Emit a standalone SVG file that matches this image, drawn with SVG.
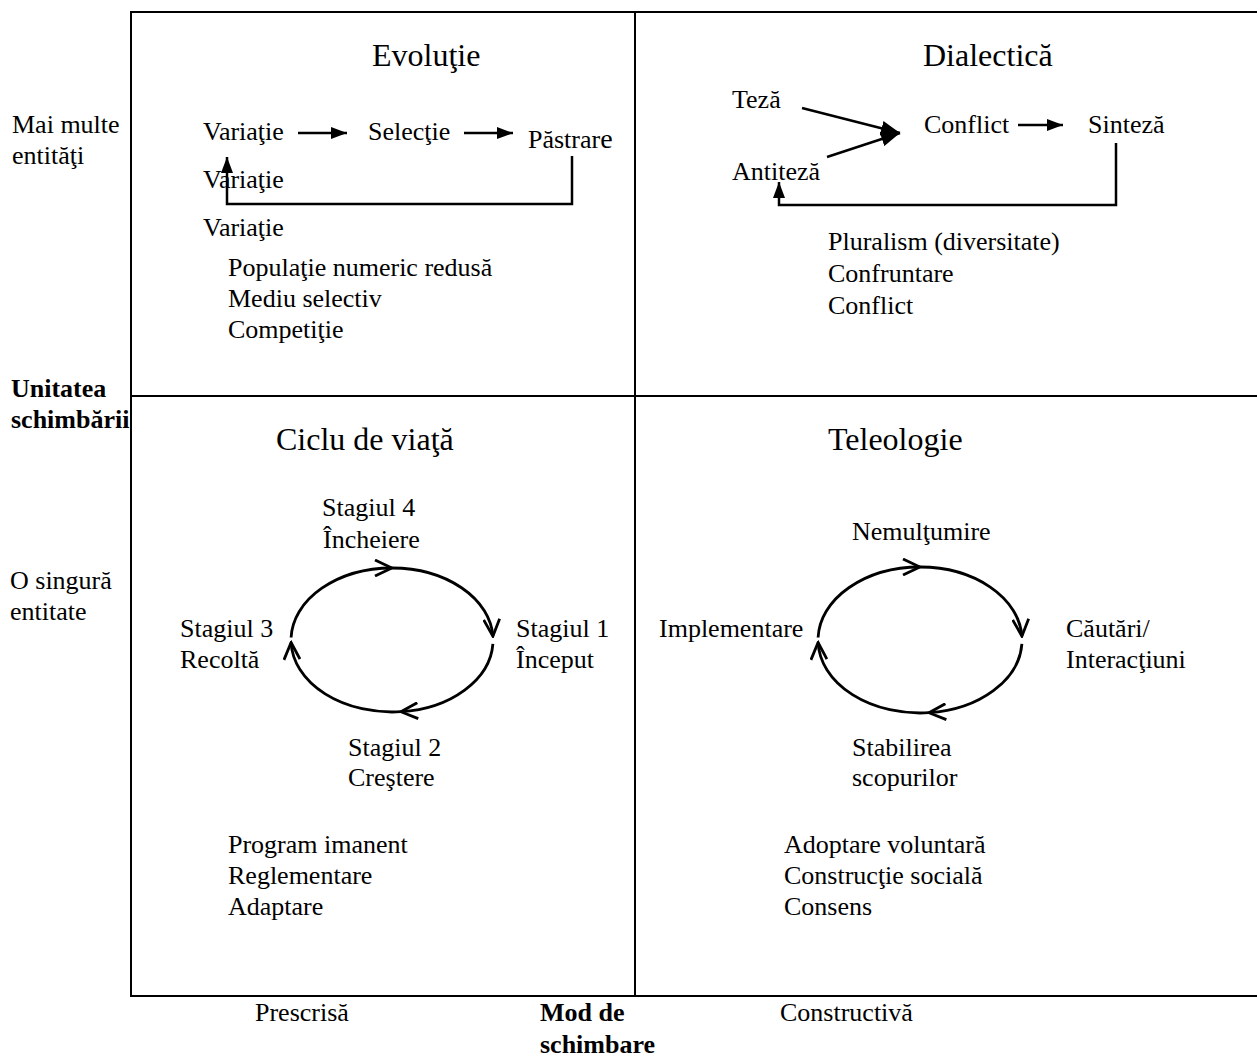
<svg xmlns="http://www.w3.org/2000/svg" width="1257" height="1057" viewBox="0 0 1257 1057">
  <style>
    text { font-family: "Liberation Serif", "Times New Roman", serif; fill: #000; font-size: 26px; }
    .title { font-size: 32px; }
    .axis { font-weight: bold; }
    .frame { stroke: #000; stroke-width: 2; fill: none; }
    .link { stroke: #000; stroke-width: 2.5; fill: none; }
    .cycle { stroke: #000; stroke-width: 2.8; fill: none; }
  </style>
  <defs>
    <marker id="solid" viewBox="0 0 16 12" refX="16" refY="6" markerWidth="16" markerHeight="12" markerUnits="userSpaceOnUse" orient="auto">
      <path d="M0,0 L16,6 L0,12 z" fill="#000"/>
    </marker>
    <marker id="solid-big" viewBox="0 0 19 15" refX="19" refY="7.5" markerWidth="19" markerHeight="15" markerUnits="userSpaceOnUse" orient="auto">
      <path d="M0,0 L19,7.5 L0,15 z" fill="#000"/>
    </marker>
    <marker id="open" viewBox="-1 -1 20 18" refX="17" refY="8" markerWidth="20" markerHeight="18" markerUnits="userSpaceOnUse" orient="auto">
      <path d="M0,0 L17,8 L0,16" fill="none" stroke="#000" stroke-width="2.8"/>
    </marker>
  </defs>

  <!-- quadrant frame -->
  <g id="frame">
    <path class="frame" d="M1257,12 H131 V996 H1257"/>
    <line class="frame" x1="131" y1="396" x2="1257" y2="396"/>
    <line class="frame" x1="635" y1="12" x2="635" y2="996"/>
  </g>

  <!-- axis labels -->
  <g id="axis-unit">
    <text x="12" y="133">Mai multe</text>
    <text x="12" y="164">entităţi</text>
    <text class="axis" x="11" y="397">Unitatea</text>
    <text class="axis" x="11" y="428">schimbării</text>
    <text x="10" y="589">O singură</text>
    <text x="10" y="620">entitate</text>
  </g>
  <g id="axis-mode">
    <text x="255" y="1021">Prescrisă</text>
    <text class="axis" x="540" y="1021">Mod de</text>
    <text class="axis" x="540" y="1053">schimbare</text>
    <text x="780" y="1021">Constructivă</text>
  </g>

  <!-- Evolution quadrant -->
  <g id="evolutie">
    <text class="title" x="372" y="66">Evoluţie</text>
    <text x="203" y="140">Variaţie</text>
    <text x="368" y="140">Selecţie</text>
    <text x="528" y="148">Păstrar<tspan font-size="28">e</tspan></text>
    <text x="203" y="188">Variaţie</text>
    <text x="203" y="236">Variaţie</text>
    <text x="228" y="276">Populaţie numeric redusă</text>
    <text x="228" y="307">Mediu selectiv</text>
    <text x="228" y="338">Competiţie</text>
  </g>

  <!-- Dialectic quadrant -->
  <g id="dialectica">
    <text class="title" x="923" y="66">Dialectică</text>
    <text x="732" y="108">Teză</text>
    <text x="732" y="180">Antiteză</text>
    <text x="924" y="133">Conflict</text>
    <text x="1088" y="133">Sinteză</text>
    <text x="828" y="250">Pluralism (diversitate)</text>
    <text x="828" y="282">Confruntare</text>
    <text x="828" y="314">Conflict</text>
  </g>

  <!-- Life-cycle quadrant -->
  <g id="ciclu-de-viata">
    <text class="title" x="276" y="450">Ciclu de viaţă</text>
    <text x="322" y="516">Stagiul 4</text>
    <text x="323" y="548">Încheiere</text>
    <text x="516" y="637">Stagiul 1</text>
    <text x="516" y="668">Început</text>
    <text x="180" y="637">Stagiul 3</text>
    <text x="180" y="668">Recoltă</text>
    <text x="348" y="756">Stagiul 2</text>
    <text x="348" y="786">Creştere</text>
    <text x="228" y="853">Program imanent</text>
    <text x="228" y="884">Reglementare</text>
    <text x="228" y="915">Adaptare</text>
  </g>

  <!-- Teleology quadrant -->
  <g id="teleologie">
    <text class="title" x="828" y="450">Teleologie</text>
    <text x="852" y="540">Nemulţumire</text>
    <text x="659" y="637">Implementare</text>
    <text x="1066" y="637">Căutări/</text>
    <text x="1066" y="668">Interacţiuni</text>
    <text x="852" y="756">Stabilirea</text>
    <text x="852" y="786">scopurilor</text>
    <text x="784" y="853">Adoptare voluntară</text>
    <text x="784" y="884">Construcţie socială</text>
    <text x="784" y="915">Consens</text>
  </g>

  <!-- connectors -->
  <g id="connectors">
    <!-- evolution chain and feedback loop -->
    <line class="link" x1="298" y1="133" x2="347" y2="133" marker-end="url(#solid)"/>
    <line class="link" x1="464" y1="133" x2="513" y2="133" marker-end="url(#solid)"/>
    <polyline class="link" points="572,156 572,204 227,204 227,157" marker-end="url(#solid)"/>

    <!-- dialectic chain and feedback loop -->
    <line class="link" x1="802" y1="108" x2="900" y2="133" marker-end="url(#solid-big)"/>
    <line class="link" x1="827" y1="157" x2="900" y2="133" marker-end="url(#solid-big)"/>
    <line class="link" x1="1018" y1="125" x2="1063" y2="125" marker-end="url(#solid)"/>
    <polyline class="link" points="1116,143 1116,205 779,205 779,182" marker-end="url(#solid)"/>

    <!-- life-cycle loop -->
    <path class="cycle" d="M392,568 A101,72 0 0 1 492.9,636.2" marker-end="url(#open)"/>
    <path class="cycle" d="M492.9,643.8 A101,72 0 0 1 400.8,711.7" marker-end="url(#open)"/>
    <path class="cycle" d="M400.8,711.7 A101,72 0 0 1 291.1,642.5" marker-end="url(#open)"/>
    <path class="cycle" d="M291.1,637.5 A101,72 0 0 1 392,568" marker-end="url(#open)"/>

    <!-- teleology loop -->
    <path class="cycle" d="M920,567 A102,73 0 0 1 1021.9,636.2" marker-end="url(#open)"/>
    <path class="cycle" d="M1021.9,643.8 A102,73 0 0 1 928.9,712.7" marker-end="url(#open)"/>
    <path class="cycle" d="M928.9,712.7 A102,73 0 0 1 818.1,642.5" marker-end="url(#open)"/>
    <path class="cycle" d="M818.1,637.5 A102,73 0 0 1 920,567" marker-end="url(#open)"/>
  </g>
</svg>
